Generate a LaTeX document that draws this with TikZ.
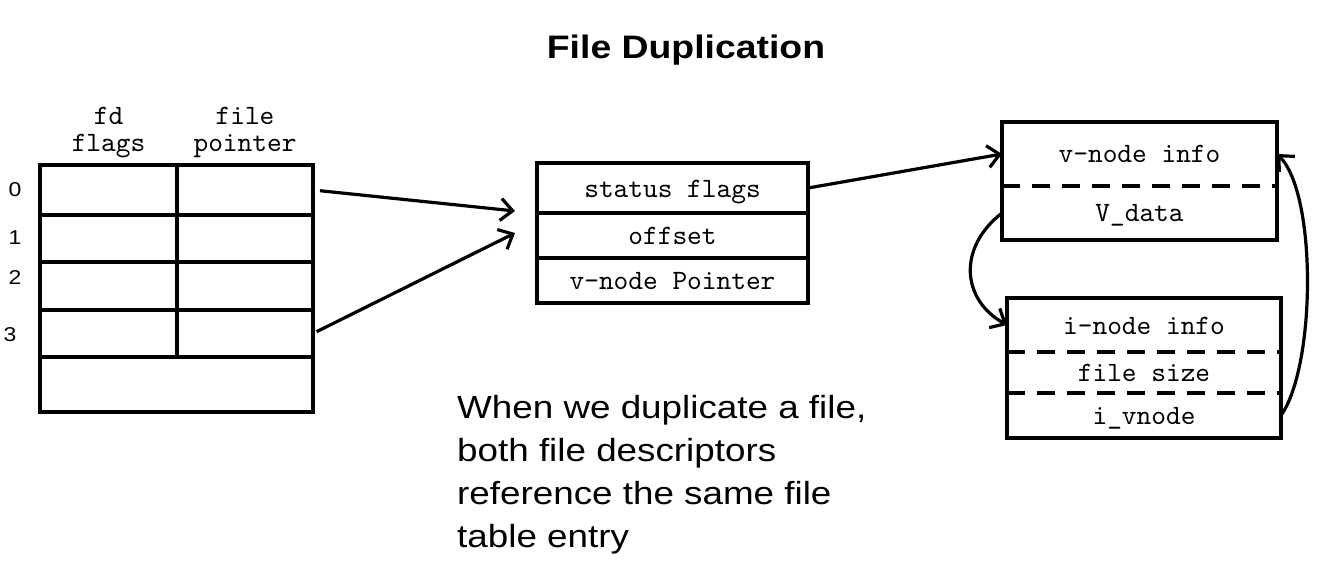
\documentclass[tikz,border=0pt]{standalone}
\usepackage{fontspec}
\setmainfont[FakeStretch=1.15]{Liberation Sans}
\newfontfamily\tabfamily{lmmono10-regular.otf}
\usetikzlibrary{positioning,arrows.meta}
\newcommand{\tabfont}{\tabfamily\fontsize{28pt}{27pt}\selectfont}
\tikzset{
  cell/.style={draw, line width=3.2pt, inner sep=0pt, outer sep=0pt},
  hdr/.style={inner sep=0pt, outer sep=0pt, font=\tabfont, align=center},
  field/.style={inner sep=0pt, outer sep=0pt, font=\tabfont, text height=24pt, text depth=6pt},
  boxline/.style={line width=3.2pt},
  dashline/.style={line width=3.2pt, dash pattern=on 18pt off 12pt},
  ptr/.style={line width=3.2pt, -{Straight Barb[length=12pt,width=22pt]}}
}
\begin{document}
\begin{tikzpicture}[x=1pt,y=-1pt]
  \useasboundingbox (0,0) rectangle (1332,572);

  \node[anchor=base, font=\bfseries\fontsize{32.5pt}{38pt}\selectfont] (title) at (686,58.3) {File Duplication};

  % descriptor table
  \foreach \i/\t/\b in {0/165/215,1/215/262,2/262/310,3/310/357}{
    \node[cell, minimum width=137pt, minimum height={(\b-\t)*1pt}] (fd\i) at (108.5,{(\t+\b)/2}) {};
    \node[cell, minimum width=136pt, minimum height={(\b-\t)*1pt}] (fp\i) at (245,{(\t+\b)/2}) {};
  }
  \node[cell, minimum width=273pt, minimum height=55pt] (spare) at (176.5,384.5) {};
  \foreach \i/\x/\y in {0/15/190,1/15/238,2/15/278,3/10/335}
    \node[font=\fontsize{20pt}{22pt}\selectfont] (n\i) at (\x,\y) {\i};
  \node[hdr, above=7pt of fd0] (hfd) {fd\\flags};
  \node[hdr, above=7pt of fp0] (hfp) {file\\pointer};

  % file table entry
  \node[cell, field, minimum width=271pt, minimum height=50pt] (status) at (672.5,188) {status flags};
  \node[cell, field, minimum width=271pt, minimum height=45pt, below=0pt of status] (offset) {offset};
  \node[cell, field, minimum width=271pt, minimum height=45pt, below=0pt of offset] (vptr) {v-node Pointer};

  % v-node
  \node[field, minimum width=275pt, minimum height=64pt] (vinfo) at (1139.5,154) {v-node info};
  \node[field, minimum width=275pt, minimum height=54pt, below=0pt of vinfo] (vdata) {V\_data};
  \draw[boxline] (vinfo.north west) rectangle (vdata.south east);
  \draw[dashline] (vinfo.south west) -- (vinfo.south east);

  % i-node
  \node[field, minimum width=274pt, minimum height=54pt] (iinfo) at (1144,325) {i-node info};
  \node[field, minimum width=274pt, minimum height=41pt, below=0pt of iinfo] (fsize) {file size};
  \node[field, minimum width=274pt, minimum height=45pt, below=0pt of fsize] (ivnode) {i\_vnode};
  \draw[boxline] (iinfo.north west) rectangle (ivnode.south east);
  \draw[dashline] (iinfo.south west) -- (iinfo.south east);
  \draw[dashline] (fsize.south west) -- (fsize.south east);

  % pointers
  \coordinate (in0) at (515,211);
  \coordinate (in1) at (515,233);
  \draw[ptr, shorten <=7pt] (fp0.east) -- (in0);
  \draw[ptr, shorten <=4pt] (fp3.east) -- (in1);
  \draw[ptr] (status.east) -- (vinfo.west);
  \draw[ptr] (vdata.west) .. controls +(-45,35) and +(-45,-25) .. (iinfo.west);
  \draw[ptr] (ivnode.east) .. controls +(35,-50) and +(40,40) .. (vinfo.east);

  \node[anchor=north west, align=left, inner sep=0pt, font=\fontsize{32pt}{43pt}\selectfont] (note) at (457,395.5)
    {When we duplicate a file,\\both file descriptors\\reference the same file\\table entry};
\end{tikzpicture}
\end{document}
